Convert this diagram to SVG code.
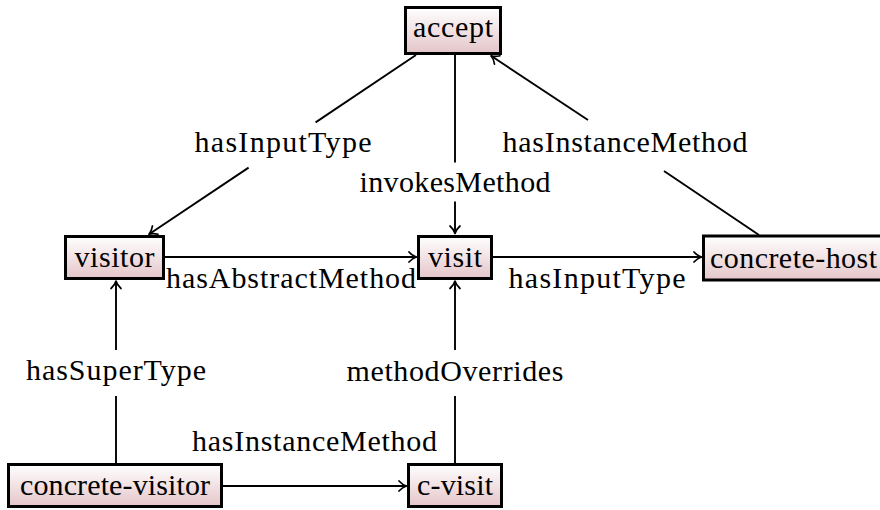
<svg xmlns="http://www.w3.org/2000/svg" xmlns:xlink="http://www.w3.org/1999/xlink" width="880" height="510" viewBox="0 0 880 510">
  <defs>
    <linearGradient id="fill" x1="0" y1="0" x2="0" y2="1">
      <stop offset="0" stop-color="#ffffff"/>
      <stop offset="1" stop-color="#e4c5c9"/>
    </linearGradient>
    <!-- open arrow tip pointing along +x, tip at the origin -->
    <path id="tip" d="M-7.5,-5 C-5,-2.2 -2.2,-0.6 0,0 C-2.2,0.6 -5,2.2 -7.5,5" fill="none" stroke="#000" stroke-width="1.7" stroke-linecap="round" stroke-linejoin="round"/>
  </defs>
  <rect width="880" height="510" fill="#ffffff"/>

  <!-- connectors: line segments broken where a label sits, plus arrow tips -->
  <g id="connectors">
    <g fill="none" stroke="#000" stroke-width="1.9">
      <!-- accept -> visitor : hasInputType -->
      <line x1="416" y1="55" x2="315.6" y2="122.4"/>
      <line x1="248.6" y1="167.6" x2="149" y2="234.3"/>
      <!-- accept -> visit : invokesMethod -->
      <line x1="455" y1="55" x2="455" y2="162.4"/>
      <line x1="455" y1="201.6" x2="455" y2="233.5"/>
      <!-- concrete-host -> accept : hasInstanceMethod -->
      <line x1="759" y1="235" x2="664" y2="171"/>
      <line x1="588" y1="120" x2="491" y2="55.8"/>
      <!-- visitor -> visit : hasAbstractMethod -->
      <line x1="165" y1="257" x2="416.5" y2="257"/>
      <!-- visit -> concrete-host : hasInputType -->
      <line x1="493" y1="257" x2="701.5" y2="257"/>
      <!-- concrete-visitor -> visitor : hasSuperType -->
      <line x1="116" y1="463" x2="116" y2="396"/>
      <line x1="116" y1="350" x2="116" y2="281"/>
      <!-- c-visit -> visit : methodOverrides -->
      <line x1="455" y1="463" x2="455" y2="396"/>
      <line x1="455" y1="350" x2="455" y2="281"/>
      <!-- concrete-visitor -> c-visit : hasInstanceMethod -->
      <line x1="223" y1="486" x2="406.5" y2="486"/>
    </g>
    <use xlink:href="#tip" href="#tip" transform="translate(149,234.3) rotate(146.2)"/>
    <use xlink:href="#tip" href="#tip" transform="translate(455,233.5) rotate(90)"/>
    <use xlink:href="#tip" href="#tip" transform="translate(491,55.8) rotate(-146.5)"/>
    <use xlink:href="#tip" href="#tip" transform="translate(416.5,257)"/>
    <use xlink:href="#tip" href="#tip" transform="translate(701.5,257)"/>
    <use xlink:href="#tip" href="#tip" transform="translate(116,281) rotate(-90)"/>
    <use xlink:href="#tip" href="#tip" transform="translate(455,281) rotate(-90)"/>
    <use xlink:href="#tip" href="#tip" transform="translate(406.5,486)"/>

    <!-- connector labels -->
    <text font-family="Liberation Serif" font-size="30" x="194.5" y="152" textLength="177" lengthAdjust="spacing">hasInputType</text>
    <text font-family="Liberation Serif" font-size="30" x="359.5" y="192" textLength="191" lengthAdjust="spacing">invokesMethod</text>
    <text font-family="Liberation Serif" font-size="30" x="502.5" y="152" textLength="245" lengthAdjust="spacing">hasInstanceMethod</text>
    <text font-family="Liberation Serif" font-size="30" x="166" y="288" textLength="250" lengthAdjust="spacing">hasAbstractMethod</text>
    <text font-family="Liberation Serif" font-size="30" x="508.5" y="288" textLength="177" lengthAdjust="spacing">hasInputType</text>
    <text font-family="Liberation Serif" font-size="30" x="26" y="380" textLength="180" lengthAdjust="spacing">hasSuperType</text>
    <text font-family="Liberation Serif" font-size="30" x="346.5" y="381" textLength="217" lengthAdjust="spacing">methodOverrides</text>
    <text font-family="Liberation Serif" font-size="30" x="192" y="451" textLength="245" lengthAdjust="spacing">hasInstanceMethod</text>
  </g>

  <!-- nodes -->
  <g id="accept">
    <rect x="405.5" y="7.5" width="95" height="46" fill="url(#fill)" stroke="#000" stroke-width="3"/>
    <text font-family="Liberation Serif" font-size="30" x="413" y="37" textLength="80" lengthAdjust="spacing">accept</text>
  </g>
  <g id="visitor">
    <rect x="65.5" y="236.5" width="98" height="42" fill="url(#fill)" stroke="#000" stroke-width="3"/>
    <text font-family="Liberation Serif" font-size="30" x="74.5" y="267" textLength="80" lengthAdjust="spacing">visitor</text>
  </g>
  <g id="visit">
    <rect x="418.5" y="236.5" width="73" height="42" fill="url(#fill)" stroke="#000" stroke-width="3"/>
    <text font-family="Liberation Serif" font-size="30" x="428" y="267" textLength="54" lengthAdjust="spacing">visit</text>
  </g>
  <g id="concrete-host">
    <rect x="703.5" y="236" width="190" height="44" fill="url(#fill)" stroke="#000" stroke-width="3"/>
    <text font-family="Liberation Serif" font-size="30" x="710" y="268" textLength="167" lengthAdjust="spacing">concrete-host</text>
  </g>
  <g id="concrete-visitor">
    <rect x="8.5" y="464.5" width="213" height="42" fill="url(#fill)" stroke="#000" stroke-width="3"/>
    <text font-family="Liberation Serif" font-size="30" x="20" y="495" textLength="190" lengthAdjust="spacing">concrete-visitor</text>
  </g>
  <g id="c-visit">
    <rect x="408.5" y="464.5" width="93" height="42" fill="url(#fill)" stroke="#000" stroke-width="3"/>
    <text font-family="Liberation Serif" font-size="30" x="417" y="495" textLength="76" lengthAdjust="spacing">c-visit</text>
  </g>
</svg>
